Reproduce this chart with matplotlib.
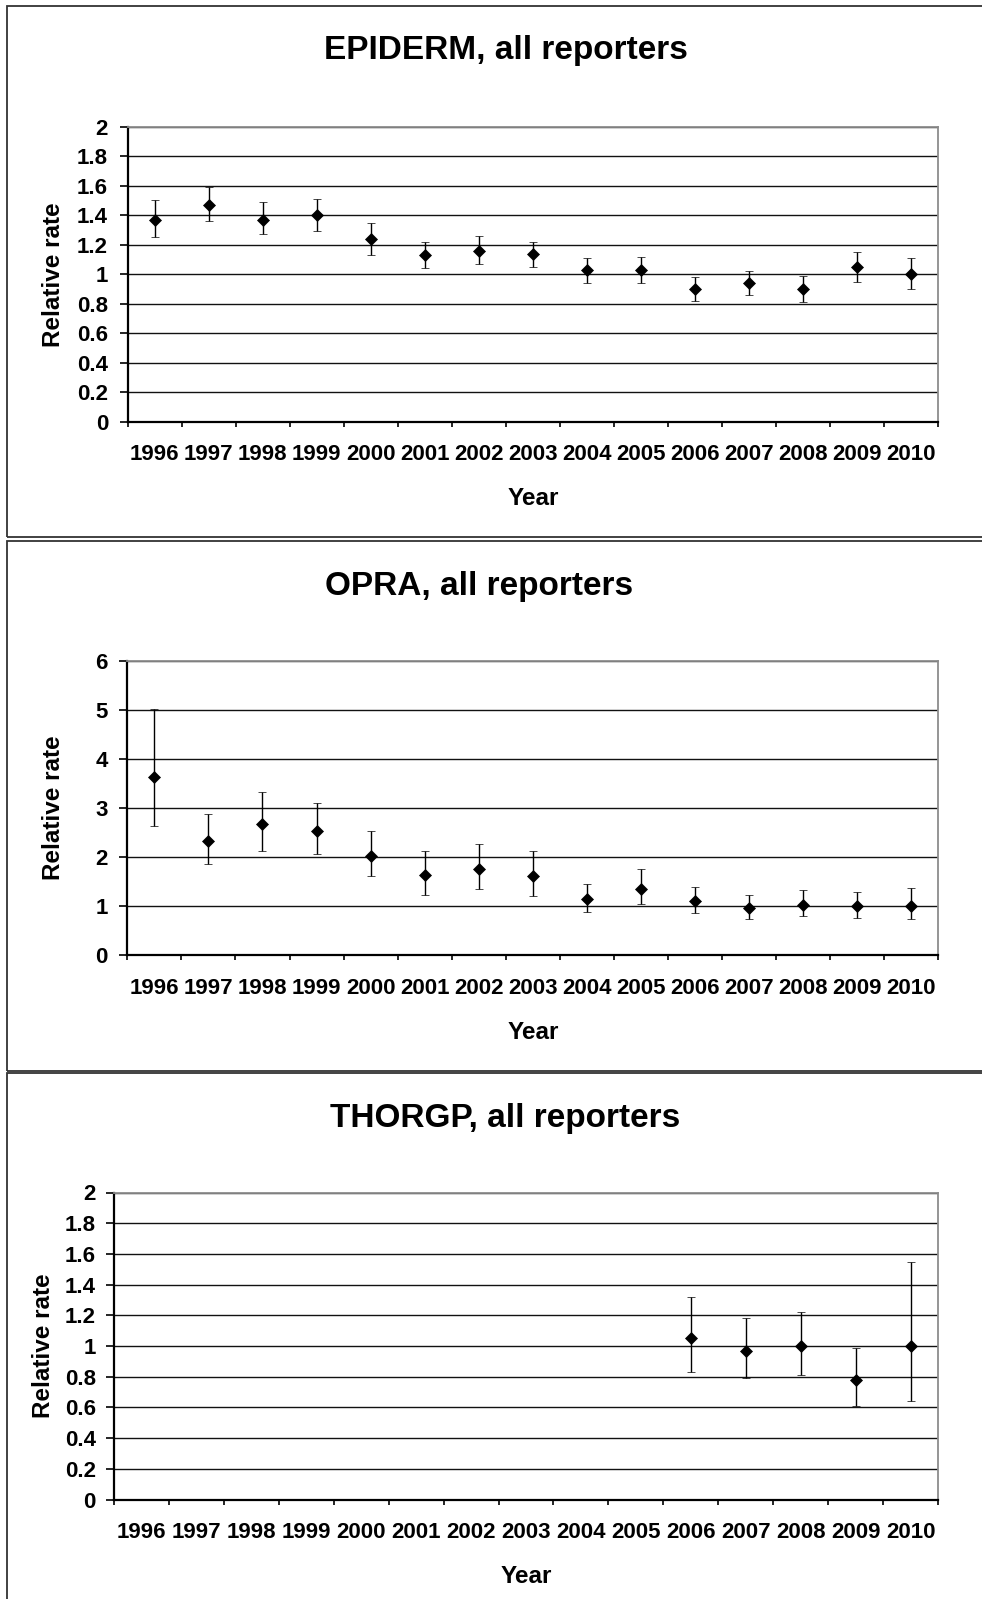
import numpy as np
import matplotlib.pyplot as plt
from matplotlib.patches import Rectangle

plt.rcParams["font.family"] = ["Liberation Sans", "DejaVu Sans"]
plt.rcParams["font.weight"] = "bold"

# ---- data ----
YEARS = [str(y) for y in range(1996, 2011)]

EPI_YEARS = YEARS
EPI_RATE = [1.37, 1.47, 1.37, 1.40, 1.24, 1.13, 1.16, 1.14, 1.03, 1.03, 0.90, 0.94, 0.90, 1.05, 1.00]
EPI_LO = [1.25, 1.36, 1.27, 1.29, 1.13, 1.04, 1.07, 1.05, 0.94, 0.94, 0.82, 0.86, 0.81, 0.95, 0.90]
EPI_HI = [1.50, 1.59, 1.49, 1.51, 1.35, 1.22, 1.26, 1.22, 1.11, 1.12, 0.98, 1.02, 0.99, 1.15, 1.11]

OPRA_YEARS = YEARS
OPRA_RATE = [3.64, 2.34, 2.68, 2.54, 2.03, 1.64, 1.76, 1.61, 1.15, 1.36, 1.11, 0.97, 1.03, 1.00, 1.00]
OPRA_LO = [2.64, 1.87, 2.13, 2.06, 1.62, 1.23, 1.36, 1.20, 0.89, 1.04, 0.86, 0.73, 0.80, 0.77, 0.73]
OPRA_HI = [5.02, 2.89, 3.33, 3.11, 2.54, 2.13, 2.26, 2.13, 1.46, 1.75, 1.39, 1.23, 1.34, 1.30, 1.37]

THOR_YEARS = ["2006", "2007", "2008", "2009", "2010"]
THOR_RATE = [1.05, 0.97, 1.00, 0.78, 1.00]
THOR_LO = [0.83, 0.79, 0.81, 0.61, 0.64]
THOR_HI = [1.32, 1.18, 1.22, 0.99, 1.55]

# ---- layout (pixels, top-left origin) ----
W, H = 982, 1599
fig = plt.figure(figsize=(W / 100, H / 100), dpi=100)


def fx(px):
    return px / W


def fy(py):
    return 1 - py / H


def panel(box, axrect, title, title_xy, years, rate, lo, hi, ymax, ystep, ylab_x, ypad):
    # chart border
    x0, y0, x1, y1 = box
    fig.patches.append(Rectangle((fx(x0), fy(y1)), fx(x1 - x0), (y1 - y0) / H,
                                 transform=fig.transFigure, fill=False,
                                 edgecolor="#333333", linewidth=1.3))
    fig.text(fx(title_xy[0]), fy(title_xy[1]), title, ha="center", va="center",
             fontsize=24, fontweight="bold")

    l, t, r, b = axrect
    ax = fig.add_axes([fx(l), fy(b), fx(r - l), (b - t) / H])

    pos = [YEARS.index(y) + 0.5 for y in years]
    rate = np.array(rate)
    err = [rate - np.array(lo), np.array(hi) - rate]
    ax.errorbar(pos, rate, yerr=err, fmt="D", color="black", markersize=5.9,
                markeredgewidth=0.5, elinewidth=1.0, capsize=2.6, capthick=1.3,
                zorder=5, clip_on=False)

    ax.set_xlim(0, len(YEARS))
    ax.set_ylim(0, ymax)
    yt = np.round(np.arange(0, ymax + ystep / 2, ystep), 1)
    ax.set_yticks(yt)
    ax.set_yticklabels([f"{v:g}" for v in yt])
    ax.set_xticks(np.arange(0, len(YEARS) + 1))
    ax.set_xticklabels([])
    ax.set_xticks(np.arange(len(YEARS)) + 0.5, minor=True)
    ax.set_xticklabels(YEARS, minor=True)

    ax.tick_params(axis="y", direction="out", length=5.5, width=1.2, pad=ypad,
                   labelsize=16)
    ax.tick_params(axis="x", which="major", direction="out", length=3.8, width=1.2)
    ax.tick_params(axis="x", which="minor", length=0, pad=16, labelsize=16)
    for lab in ax.get_xticklabels(minor=True) + ax.get_yticklabels():
        lab.set_fontweight("bold")

    ax.yaxis.grid(True, color="#111111", linewidth=1.0)
    ax.set_axisbelow(True)
    for s in ("top", "right"):
        ax.spines[s].set_color("#8c8c8c")
        ax.spines[s].set_linewidth(1.3)
    for s in ("left", "bottom"):
        ax.spines[s].set_color("black")
        ax.spines[s].set_linewidth(1.6)

    ah = b - t
    aw = r - l
    ax.set_xlabel("Year", fontsize=17.5, fontweight="bold", va="center")
    ax.xaxis.set_label_coords(0.5, -77 / ah)
    ax.set_ylabel("Relative rate", fontsize=17.5, fontweight="bold", va="center")
    ax.yaxis.set_label_coords((ylab_x - l) / aw, 0.5)
    return ax


panel((6.5, 5.7, 1000, 537), (127.5, 126.7, 938, 421.7), "EPIDERM, all reporters",
      (506, 50), EPI_YEARS, EPI_RATE, EPI_LO, EPI_HI, 2.0, 0.2, 53, 8.5)
panel((6.5, 540.7, 1000, 1070.7), (127.3, 661, 938.3, 955.3), "OPRA, all reporters",
      (479, 586), OPRA_YEARS, OPRA_RATE, OPRA_LO, OPRA_HI, 6, 1, 53, 8.5)
panel((6.5, 1072.7, 1000, 1640), (114, 1192.5, 938, 1499.5), "THORGP, all reporters",
      (505, 1118), THOR_YEARS, THOR_RATE, THOR_LO, THOR_HI, 2.0, 0.2, 43, 7.5)

fig.savefig("out.png", dpi=100)
